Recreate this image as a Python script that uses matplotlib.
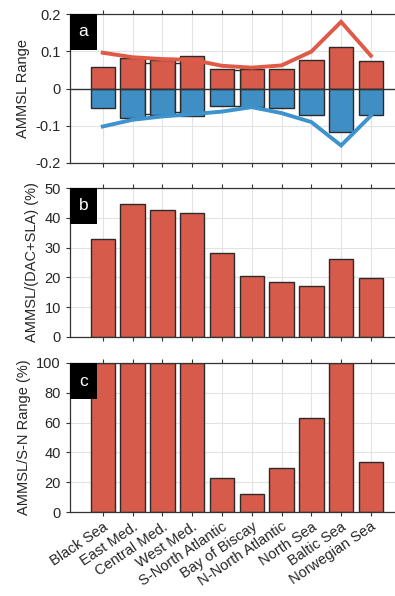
import matplotlib
matplotlib.use("Agg")
import matplotlib.pyplot as plt
from matplotlib.patches import Rectangle
import numpy as np

plt.rcParams['font.family'] = ['Liberation Sans', 'DejaVu Sans']
plt.rcParams['axes.unicode_minus'] = False

# Regions along the European coast
regions = ["Black Sea", "East Med.", "Central Med.", "West Med.", "S-North Atlantic",
           "Bay of Biscay", "N-North Atlantic", "North Sea", "Baltic Sea", "Norwegian Sea"]

# (a) AMMSL range: positive / negative extremes (bars) and S-N range envelope (lines)
ammsl_max = [0.059, 0.082, 0.076, 0.086, 0.053, 0.052, 0.053, 0.077, 0.111, 0.074]
ammsl_min = [-0.053, -0.078, -0.070, -0.073, -0.048, -0.050, -0.053, -0.072, -0.117, -0.070]
sn_max = [0.096, 0.084, 0.079, 0.077, 0.061, 0.056, 0.062, 0.099, 0.179, 0.088]
sn_min = [-0.102, -0.084, -0.075, -0.069, -0.062, -0.050, -0.066, -0.090, -0.153, -0.073]

# thin white rectangles left between some neighbouring bars
gap_pos = [1.5, 2.5, 4.5]
gap_top = [0.068, 0.068, 0.050]
gap_bot = [-0.068, -0.064, -0.048]

# (b) AMMSL share of DAC+SLA variability (%)
ratio_total = [32.9, 44.6, 42.5, 41.7, 28.1, 20.5, 18.3, 17.2, 26.3, 19.7]

# (c) AMMSL relative to S-N range (%)
ratio_sn = [100, 100, 100, 100, 23.0, 11.9, 29.3, 63.1, 100, 33.6]

RED = "#d75b4b"
BLUE = "#3f8fc5"
RED_LINE = "#e05a48"
BLUE_LINE = "#3d93ce"
EDGE = "#2b2b2b"
TXT = "#262626"
FS = 10.5

W, H = 395, 596
fig = plt.figure(figsize=(W / 100, H / 100), dpi=100)

left = 70 / W
width = 1 - left

def make_axes(top_px, bot_px):
    return fig.add_axes([left, 1 - bot_px / H, width, (bot_px - top_px) / H])

axa = make_axes(14, 163)
axb = make_axes(188, 337)
axc = make_axes(363, 512)

x = np.arange(len(regions))
bw = 0.82

def style(ax, ylim, yticks, ylabel, letter, labels=False):
    ax.set_xlim(-1.1, 9.81)
    ax.set_ylim(*ylim)
    ax.set_yticks(yticks)
    ax.set_xticks(x)
    ax.grid(True, color="#e3e3e3", lw=0.8)
    ax.set_axisbelow(True)
    for s in ["top", "left", "bottom"]:
        ax.spines[s].set_color("#333333")
        ax.spines[s].set_linewidth(0.9)
    ax.spines["right"].set_visible(False)
    ax.tick_params(axis="both", direction="out", length=3, width=0.8,
                   color="#333333", labelsize=FS, labelcolor=TXT, top=True, right=False)
    ax.set_ylabel(ylabel, fontsize=FS, color=TXT)
    if labels:
        ax.set_xticklabels(regions, rotation=34, ha="right", va="top",
                           rotation_mode="anchor", fontsize=FS, color=TXT)
        ax.tick_params(axis="x", pad=2.5)
    else:
        ax.set_xticklabels([])
    ax.add_patch(Rectangle((0, 1 - 36 / 149), 27 / 325, 36 / 149, transform=ax.transAxes,
                           facecolor="black", edgecolor="none", zorder=10, clip_on=False))
    ax.text(13.5 / 325, 1 - 18 / 149, letter, transform=ax.transAxes, color="white",
            fontsize=12.5, ha="center", va="center", zorder=11)

# (a)
axa.bar(x, ammsl_max, width=bw, color=RED, edgecolor=EDGE, linewidth=1.0, zorder=2)
axa.bar(x, ammsl_min, width=bw, color=BLUE, edgecolor=EDGE, linewidth=1.0, zorder=2)
axa.bar(gap_pos, np.array(gap_top) - np.array(gap_bot), bottom=gap_bot, width=1 - bw,
        color="white", edgecolor=EDGE, linewidth=1.0, zorder=2)
axa.axhline(0, color="#333333", lw=1.0, zorder=3)
axa.plot(x, sn_max, color=RED_LINE, lw=2.8, zorder=4, solid_joinstyle="miter")
axa.plot(x, sn_min, color=BLUE_LINE, lw=2.8, zorder=4, solid_joinstyle="miter")
style(axa, (-0.2, 0.2), [-0.2, -0.1, 0, 0.1, 0.2], "AMMSL Range", "a")
axa.set_yticklabels(["-0.2", "-0.1", "0", "0.1", "0.2"])

# (b)
axb.bar(x, ratio_total, width=bw, color=RED, edgecolor=EDGE, linewidth=1.0, zorder=2)
style(axb, (0, 50), [0, 10, 20, 30, 40, 50], "AMMSL/(DAC+SLA) (%)", "b")

# (c)
axc.bar(x, ratio_sn, width=bw, color=RED, edgecolor=EDGE, linewidth=1.0, zorder=2)
style(axc, (0, 100), [0, 20, 40, 60, 80, 100], "AMMSL/S-N Range (%)", "c", labels=True)

fig.savefig("out.png", dpi=100)
